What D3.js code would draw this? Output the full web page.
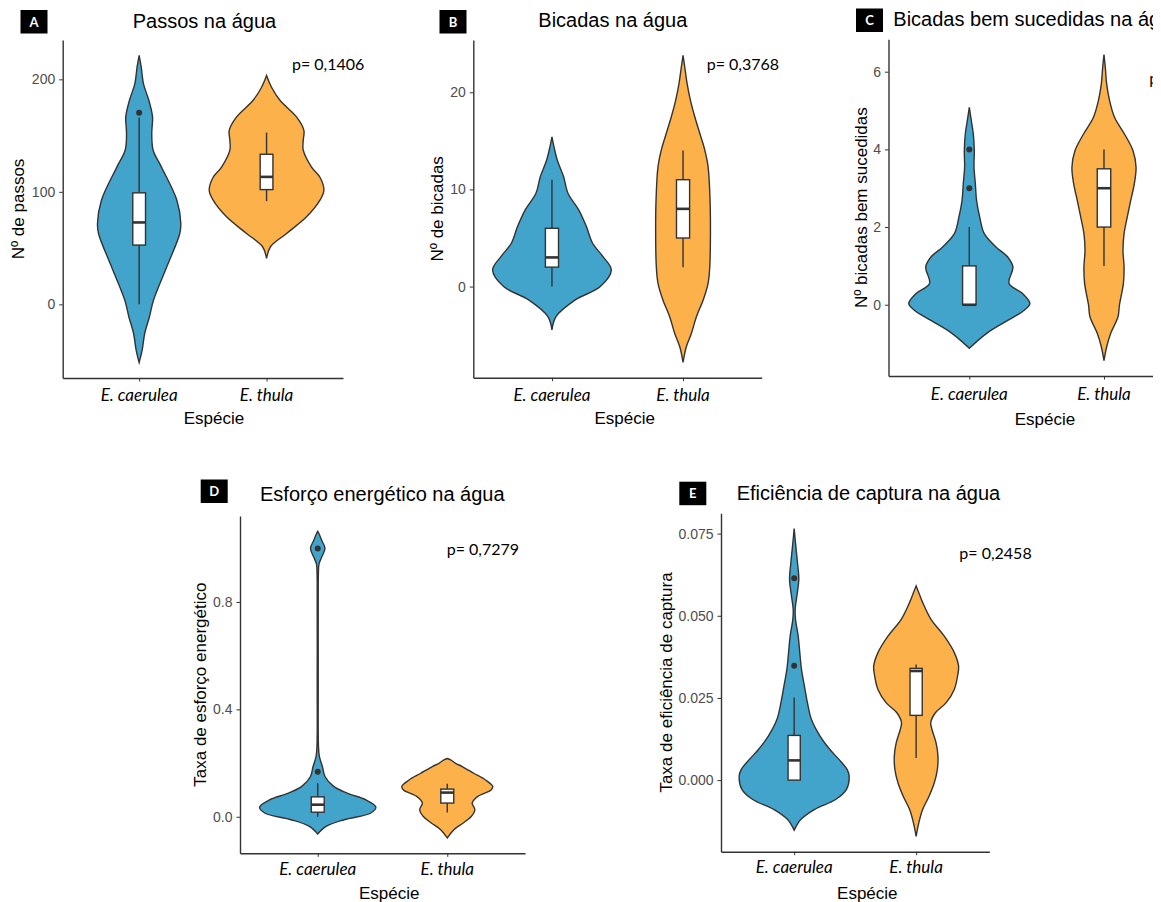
<!DOCTYPE html>
<html>
<head>
<meta charset="utf-8">
<script src="https://cdn.jsdelivr.net/npm/d3@7"></script>
<style>
  body { margin: 0; background: #fff; }
  .tick text { fill: #4d4d4d; font-family: "Liberation Sans", Arial, sans-serif; font-size: 14px; }
  .tick line, .domain { stroke: #333; }
</style>
</head>
<body>
<div id="chart-container"></div>
<script>
// categories
const species = ["E. caerulea", "E. thula"];

// A - passos na água: violin profiles [value, half width], box [low, q1, median, q3, high]
const passosTicks = [0, 100, 200];
const passosViolinCaerulea = [[-51.8, 0], [-40.5, 0.024], [-25.7, 0.044], [-11, 0.081], [3.8, 0.113], [33.4, 0.217], [63, 0.319], [71.9, 0.327], [92.6, 0.296], [122, 0.175], [137, 0.11], [151.8, 0.099], [166.6, 0.105], [181.4, 0.076], [196, 0.034], [211, 0.016], [221.3, 0]];
const passosViolinThula = [[40.8, 0], [51.2, 0.031], [63, 0.157], [77.8, 0.314], [92.6, 0.419], [101.5, 0.45], [113, 0.419], [122, 0.353], [137, 0.288], [145.9, 0.288], [154.7, 0.293], [166.6, 0.235], [181.4, 0.105], [193, 0.039], [203.4, 0]];
const passosBoxCaerulea = [0, 52.7, 72.8, 99.1, 166];
const passosBoxThula = [91.7, 102, 113.3, 133.4, 152.7];
const passosOutliers = [[170.4], []];
const passosP = "p= 0,1406";

// B - bicadas na água
const bicadasTicks = [0, 10, 20];
const bicadasViolinCaerulea = [[-4.46, 0], [-3.09, 0.031], [-1.37, 0.178], [0, 0.369], [1.7, 0.453], [3.09, 0.389], [4.46, 0.31], [6.2, 0.262], [7.9, 0.204], [9.6, 0.122], [11.3, 0.089], [13.0, 0.041], [14.4, 0.015], [15.4, 0]];
const bicadasViolinThula = [[-7.8, 0], [-6.2, 0.025], [-4.8, 0.064], [-3.1, 0.102], [-1.4, 0.153], [0.34, 0.191], [2.06, 0.204], [5.5, 0.209], [8.9, 0.206], [12.35, 0.191], [14.1, 0.165], [15.8, 0.127], [17.5, 0.089], [19.2, 0.056], [20.9, 0.031], [22.6, 0.013], [23.8, 0]];
const bicadasBoxCaerulea = [0, 2, 3, 6, 11];
const bicadasBoxThula = [2, 5, 8, 11, 14];
const bicadasOutliers = [[], []];
const bicadasP = "p= 0,3768";

// C - bicadas bem sucedidas na água
const sucessoTicks = [0, 2, 4, 6];
const sucessoViolinCaerulea = [[-1.12, 0], [-0.735, 0.129], [-0.39, 0.292], [-0.14, 0.408], [0.03, 0.45], [0.29, 0.396], [0.55, 0.295], [0.97, 0.324], [1.23, 0.285], [1.49, 0.198], [1.83, 0.111], [2.26, 0.077], [2.68, 0.054], [3.11, 0.045], [3.54, 0.035], [3.97, 0.037], [4.39, 0.03], [4.74, 0.015], [5.08, 0]];
const sucessoViolinThula = [[-1.44, 0], [-1.08, 0.02], [-0.735, 0.05], [-0.31, 0.104], [0, 0.115], [0.55, 0.144], [0.97, 0.149], [1.4, 0.141], [1.83, 0.149], [2.26, 0.173], [2.68, 0.198], [3.11, 0.225], [3.54, 0.238], [3.97, 0.215], [4.39, 0.153], [4.82, 0.079], [5.25, 0.042], [5.68, 0.02], [6.1, 0.01], [6.44, 0]];
const sucessoBoxCaerulea = [0, 0, 0, 1, 2];
const sucessoBoxThula = [1, 2, 3, 3.5, 4];
const sucessoOutliers = [[3, 4], []];
const sucessoP = "p= 0,0";

// D - esforço energético na água
const esforcoTicks = [0, 0.4, 0.8];
const esforcoViolinCaerulea = [[-0.064, 0], [-0.036, 0.064], [-0.011, 0.205], [0.014, 0.41], [0.036, 0.449], [0.063, 0.372], [0.088, 0.226], [0.113, 0.123], [0.15, 0.056], [0.187, 0.036], [0.224, 0.013], [0.26, 0.006], [0.5, 0.004], [0.8, 0.004], [0.9, 0.005], [0.942, 0.01], [0.967, 0.031], [1.0, 0.056], [1.029, 0.031], [1.054, 0.01], [1.063, 0]];
const esforcoViolinThula = [[-0.079, 0], [-0.048, 0.051], [-0.024, 0.121], [0.001, 0.185], [0.026, 0.213], [0.051, 0.192], [0.076, 0.236], [0.1, 0.338], [0.113, 0.351], [0.137, 0.295], [0.162, 0.205], [0.187, 0.115], [0.199, 0.064], [0.212, 0.026], [0.217, 0]];
const esforcoBoxCaerulea = [0, 0.017, 0.045, 0.074, 0.125];
const esforcoBoxThula = [0.016, 0.051, 0.09, 0.103, 0.123];
const esforcoOutliers = [[0.168, 0.999], []];
const esforcoP = "p= 0,7279";

// E - eficiência de captura na água
const eficienciaTicks = [0, 0.025, 0.05, 0.075];
const eficienciaViolinCaerulea = [[-0.0152, 0], [-0.012, 0.054], [-0.0089, 0.168], [-0.0059, 0.34], [-0.0028, 0.429], [0.0012, 0.451], [0.0032, 0.435], [0.0063, 0.367], [0.0093, 0.293], [0.0134, 0.212], [0.0185, 0.141], [0.0235, 0.109], [0.0286, 0.084], [0.0337, 0.06], [0.0388, 0.046], [0.0438, 0.033], [0.0489, 0.011], [0.052, 0.008], [0.056, 0.022], [0.0611, 0.038], [0.0662, 0.027], [0.0703, 0.016], [0.0733, 0.008], [0.0765, 0]];
const eficienciaViolinThula = [[-0.0171, 0], [-0.013, 0.022], [-0.0089, 0.054], [-0.0049, 0.106], [-0.0008, 0.149], [0.0032, 0.174], [0.0073, 0.179], [0.0114, 0.163], [0.0154, 0.13], [0.0175, 0.12], [0.0205, 0.158], [0.0235, 0.245], [0.0276, 0.313], [0.0317, 0.34], [0.0347, 0.348], [0.0388, 0.313], [0.0438, 0.231], [0.0489, 0.122], [0.054, 0.054], [0.057, 0.022], [0.0591, 0]];
const eficienciaBoxCaerulea = [0, 0, 0.006, 0.0136, 0.0251];
const eficienciaBoxThula = [0.0067, 0.0197, 0.0332, 0.034, 0.0352];
const eficienciaOutliers = [[0.0614, 0.0348], []];
const eficienciaP = "p= 0,2458";

const colors = ["#42a3cb", "#fdb14a"];
const sansFont = '"Liberation Sans", Arial, sans-serif';
const labelFont = 'Lato, "Open Sans", sans-serif';

// svg
const svg = d3
  .select("#chart-container")
  .append("svg")
  .attr("width", 1161)
  .attr("height", 902);

// the reference figure is cut at its right edge
svg
  .append("clipPath")
  .attr("id", "page-clip")
  .append("rect")
  .attr("width", 1153)
  .attr("height", 902);

const page = svg.append("g").attr("clip-path", "url(#page-clip)");

drawPanel({
  badge: "A", badgeX: 20.5, badgeY: 10,
  title: "Passos na água", titleX: 132.7, titleY: 20.5,
  plot: { l: 62.7, r: 343, t: 40, b: 378 },
  yLabel: "Nº de passos", yLabelX: 18,
  xLabelX: 214, catY: 395, xLabelY: 418,
  pText: passosP, pX: 292, pY: 64,
  ticks: passosTicks, format: d3.format("d"),
  violins: [passosViolinCaerulea, passosViolinThula],
  boxes: [passosBoxCaerulea, passosBoxThula],
  outliers: passosOutliers,
});

drawPanel({
  badge: "B", badgeX: 439.5, badgeY: 10,
  title: "Bicadas na água", titleX: 538.3, titleY: 19.5,
  plot: { l: 473.3, r: 761.7, t: 40, b: 377.7 },
  yLabel: "Nº de bicadas", yLabelX: 436.7,
  xLabelX: 624.7, catY: 395, xLabelY: 418,
  pText: bicadasP, pX: 706.7, pY: 64,
  ticks: bicadasTicks, format: d3.format("d"),
  violins: [bicadasViolinCaerulea, bicadasViolinThula],
  boxes: [bicadasBoxCaerulea, bicadasBoxThula],
  outliers: bicadasOutliers,
});

drawPanel({
  badge: "C", badgeX: 856, badgeY: 8.5,
  title: "Bicadas bem sucedidas na água", titleX: 893.3, titleY: 19,
  plot: { l: 888.5, r: 1184.8, t: 39.3, b: 376 },
  yLabel: "Nº bicadas bem sucedidas", yLabelX: 860.8,
  xLabelX: 1045, catY: 394.5, xLabelY: 419,
  pText: sucessoP, pX: 1149.3, pY: 78,
  ticks: sucessoTicks, format: d3.format("d"),
  violins: [sucessoViolinCaerulea, sucessoViolinThula],
  boxes: [sucessoBoxCaerulea, sucessoBoxThula],
  outliers: sucessoOutliers,
});

drawPanel({
  badge: "D", badgeX: 200.7, badgeY: 479.5,
  title: "Esforço energético na água", titleX: 260, titleY: 494.2,
  plot: { l: 240, r: 525, t: 516, b: 853.3 },
  yLabel: "Taxa de esforço energético", yLabelX: 200,
  xLabelX: 389.2, catY: 869.3, xLabelY: 892.7,
  pText: esforcoP, pX: 446.7, pY: 549,
  ticks: esforcoTicks, format: d3.format(".1f"),
  violins: [esforcoViolinCaerulea, esforcoViolinThula],
  boxes: [esforcoBoxCaerulea, esforcoBoxThula],
  outliers: esforcoOutliers,
});

drawPanel({
  badge: "E", badgeX: 679.3, badgeY: 481.7,
  title: "Eficiência de captura na água", titleX: 736.7, titleY: 492.8,
  plot: { l: 721, r: 989.3, t: 513.3, b: 851.7 },
  yLabel: "Taxa de eficiência de captura", yLabelX: 665.8,
  xLabelX: 867.3, catY: 867.3, xLabelY: 892.7,
  pText: eficienciaP, pX: 959.3, pY: 553.3,
  ticks: eficienciaTicks, format: d3.format(".3f"),
  violins: [eficienciaViolinCaerulea, eficienciaViolinThula],
  boxes: [eficienciaBoxCaerulea, eficienciaBoxThula],
  outliers: eficienciaOutliers,
});

function drawPanel(cfg) {
  const { l, r, t, b } = cfg.plot;
  const g = page.append("g");

  // y scale: data extent of the violins with ggplot-like 5% expansion
  const all = cfg.violins.flat().map((d) => d[0]);
  const [lo, hi] = d3.extent(all);
  const pad = (hi - lo) * 0.05;
  const y = d3.scaleLinear().domain([lo - pad, hi + pad]).range([b, t]);

  // x scale: discrete categories with 0.6 expansion on both sides
  const x = d3.scalePoint().domain(species).range([l, r]).padding(0.6);
  const step = x.step();

  // violins
  cfg.violins.forEach((profile, i) => {
    const cx = x(species[i]);
    const area = d3
      .area()
      .curve(d3.curveCatmullRom)
      .y((d) => y(d[0]))
      .x0((d) => cx - d[1] * step)
      .x1((d) => cx + d[1] * step);
    g.append("path")
      .attr("d", area(profile))
      .attr("fill", colors[i])
      .attr("stroke", "#333")
      .attr("stroke-width", 1.4);
  });

  // boxplots
  cfg.boxes.forEach((bx, i) => {
    const cx = x(species[i]);
    const bw = 0.05 * step;
    const [low, q1, med, q3, high] = bx;
    g.append("line")
      .attr("x1", cx).attr("x2", cx)
      .attr("y1", y(low)).attr("y2", y(q1))
      .attr("stroke", "#333").attr("stroke-width", 1.4);
    g.append("line")
      .attr("x1", cx).attr("x2", cx)
      .attr("y1", y(q3)).attr("y2", y(high))
      .attr("stroke", "#333").attr("stroke-width", 1.4);
    g.append("rect")
      .attr("x", cx - bw)
      .attr("y", y(q3))
      .attr("width", bw * 2)
      .attr("height", Math.max(y(q1) - y(q3), 0.5))
      .attr("fill", "#fff")
      .attr("stroke", "#333")
      .attr("stroke-width", 1.4);
    g.append("line")
      .attr("x1", cx - bw).attr("x2", cx + bw)
      .attr("y1", y(med)).attr("y2", y(med))
      .attr("stroke", "#333").attr("stroke-width", 2.6);
  });

  // outliers
  cfg.outliers.forEach((pts, i) => {
    g.selectAll(null)
      .data(pts)
      .enter()
      .append("circle")
      .attr("cx", x(species[i]))
      .attr("cy", (d) => y(d))
      .attr("r", 3)
      .attr("fill", "#333");
  });

  // axes
  const yAxis = d3
    .axisLeft(y)
    .tickValues(cfg.ticks)
    .tickFormat(cfg.format)
    .tickSizeInner(3.5)
    .tickSizeOuter(0)
    .tickPadding(4);
  g.append("g")
    .attr("transform", `translate(${l}, 0)`)
    .call(yAxis)
    .call((a) => a.select(".domain").attr("stroke-width", 1.4));

  const xAxis = d3.axisBottom(x).tickSizeInner(3.5).tickSizeOuter(0).tickFormat("");
  g.append("g")
    .attr("transform", `translate(0, ${b})`)
    .call(xAxis)
    .call((a) => a.select(".domain").attr("stroke-width", 1.4));

  // category labels
  g.selectAll(null)
    .data(species)
    .enter()
    .append("text")
    .attr("x", (d) => x(d))
    .attr("y", cfg.catY)
    .attr("dy", "0.35em")
    .attr("text-anchor", "middle")
    .style("font-family", labelFont)
    .style("font-style", "italic")
    .style("font-size", "17px")
    .attr("fill", "#000")
    .text((d) => d);

  // axis titles
  g.append("text")
    .attr("x", cfg.xLabelX)
    .attr("y", cfg.xLabelY)
    .attr("dy", "0.35em")
    .attr("text-anchor", "middle")
    .style("font-family", sansFont)
    .style("font-size", "17px")
    .text("Espécie");

  g.append("text")
    .attr("transform", `translate(${cfg.yLabelX}, ${(t + b) / 2}) rotate(-90)`)
    .attr("dy", "0.35em")
    .attr("text-anchor", "middle")
    .style("font-family", sansFont)
    .style("font-size", "17px")
    .text(cfg.yLabel);

  // title and badge
  g.append("text")
    .attr("x", cfg.titleX)
    .attr("y", cfg.titleY)
    .attr("dy", "0.35em")
    .style("font-family", sansFont)
    .style("font-size", "20px")
    .text(cfg.title);

  g.append("rect")
    .attr("x", cfg.badgeX)
    .attr("y", cfg.badgeY)
    .attr("width", 27)
    .attr("height", 23.5)
    .attr("fill", "#000");
  g.append("text")
    .attr("x", cfg.badgeX + 13.5)
    .attr("y", cfg.badgeY + 12)
    .attr("dy", "0.35em")
    .attr("text-anchor", "middle")
    .style("font-family", labelFont)
    .style("font-weight", "bold")
    .style("font-size", "13px")
    .attr("fill", "#fff")
    .text(cfg.badge);

  // p-value
  g.append("text")
    .attr("x", cfg.pX)
    .attr("y", cfg.pY)
    .attr("dy", "0.35em")
    .style("font-family", labelFont)
    .style("font-size", "16px")
    .text(cfg.pText);
}
</script>
</body>
</html>
